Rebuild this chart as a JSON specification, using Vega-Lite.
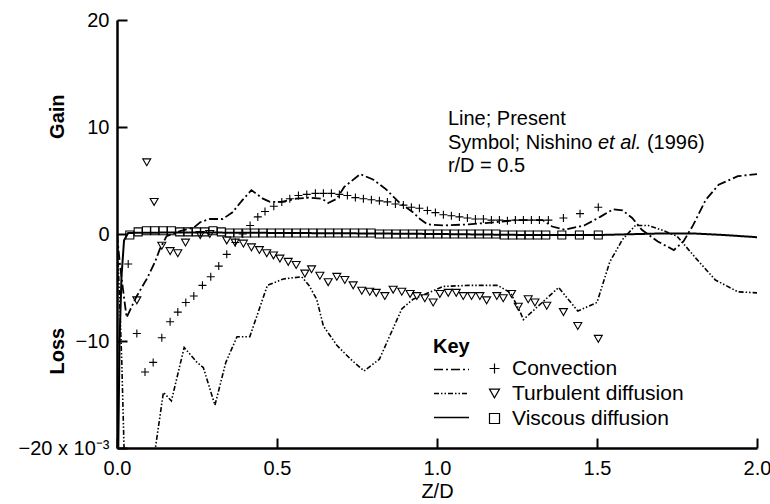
{
  "$schema": "https://vega.github.io/schema/vega-lite/v6.json",
  "width": 640,
  "height": 428,
  "autosize": "none",
  "padding": {"left": 117, "top": 20, "right": 13, "bottom": 56},
  "config": {
    "view": {"stroke": null},
    "font": "Liberation Sans",
    "axis": {"grid": false, "domainColor": "black", "tickColor": "black", "labelColor": "black", "titleColor": "black", "labelFont": "Liberation Sans", "titleFont": "Liberation Sans", "labelFontSize": 20, "titleFontSize": 20, "domainWidth": 2.5, "tickWidth": 2},
    "legend": {"labelFont": "Liberation Sans", "titleFont": "Liberation Sans", "labelColor": "black", "titleColor": "black"}
  },
  "datasets": {
    "lines": [
      {"term": "Convection", "z": 0, "v": 0},
      {"term": "Convection", "z": 0.008, "v": -2.5},
      {"term": "Convection", "z": 0.018, "v": -5},
      {"term": "Convection", "z": 0.03, "v": -7.8},
      {"term": "Convection", "z": 0.06, "v": -5.9},
      {"term": "Convection", "z": 0.093, "v": -4.2},
      {"term": "Convection", "z": 0.119, "v": -2.6},
      {"term": "Convection", "z": 0.134, "v": -1.4},
      {"term": "Convection", "z": 0.155, "v": -0.2},
      {"term": "Convection", "z": 0.2, "v": 0.3},
      {"term": "Convection", "z": 0.24, "v": 0.6},
      {"term": "Convection", "z": 0.26, "v": 1.1},
      {"term": "Convection", "z": 0.29, "v": 1.4},
      {"term": "Convection", "z": 0.33, "v": 1.4},
      {"term": "Convection", "z": 0.36, "v": 2.0},
      {"term": "Convection", "z": 0.39, "v": 3.1},
      {"term": "Convection", "z": 0.42, "v": 4.1},
      {"term": "Convection", "z": 0.456, "v": 3.3},
      {"term": "Convection", "z": 0.478, "v": 3.0},
      {"term": "Convection", "z": 0.515, "v": 3.0},
      {"term": "Convection", "z": 0.56, "v": 3.3},
      {"term": "Convection", "z": 0.6, "v": 3.4},
      {"term": "Convection", "z": 0.64, "v": 3.3},
      {"term": "Convection", "z": 0.66, "v": 2.9},
      {"term": "Convection", "z": 0.687, "v": 3.3},
      {"term": "Convection", "z": 0.71, "v": 4.4},
      {"term": "Convection", "z": 0.76, "v": 5.6},
      {"term": "Convection", "z": 0.8, "v": 5.1},
      {"term": "Convection", "z": 0.84, "v": 4.2},
      {"term": "Convection", "z": 0.88, "v": 3.0},
      {"term": "Convection", "z": 0.926, "v": 2.0},
      {"term": "Convection", "z": 0.947, "v": 1.4},
      {"term": "Convection", "z": 0.97, "v": 0.9},
      {"term": "Convection", "z": 1.02, "v": 0.8},
      {"term": "Convection", "z": 1.1, "v": 0.9},
      {"term": "Convection", "z": 1.18, "v": 1.1},
      {"term": "Convection", "z": 1.25, "v": 1.3},
      {"term": "Convection", "z": 1.33, "v": 1.3},
      {"term": "Convection", "z": 1.36, "v": 0.7},
      {"term": "Convection", "z": 1.4, "v": 0.4},
      {"term": "Convection", "z": 1.46, "v": 0.8},
      {"term": "Convection", "z": 1.51, "v": 1.6},
      {"term": "Convection", "z": 1.55, "v": 2.3},
      {"term": "Convection", "z": 1.58, "v": 2.2},
      {"term": "Convection", "z": 1.61, "v": 1.5},
      {"term": "Convection", "z": 1.64, "v": 0.4},
      {"term": "Convection", "z": 1.69, "v": -0.7},
      {"term": "Convection", "z": 1.74, "v": -1.5},
      {"term": "Convection", "z": 1.77, "v": -0.7},
      {"term": "Convection", "z": 1.8, "v": 0.8},
      {"term": "Convection", "z": 1.84, "v": 3.2},
      {"term": "Convection", "z": 1.88, "v": 4.6},
      {"term": "Convection", "z": 1.94, "v": 5.4},
      {"term": "Convection", "z": 2.0, "v": 5.6},
      {"term": "Turbulent diffusion", "z": 0, "v": 0},
      {"term": "Turbulent diffusion", "z": 0.008, "v": -6},
      {"term": "Turbulent diffusion", "z": 0.015, "v": -12},
      {"term": "Turbulent diffusion", "z": 0.022, "v": -20},
      {"term": "Turbulent diffusion", "z": 0.03, "v": -27},
      {"term": "Turbulent diffusion", "z": 0.09, "v": -27},
      {"term": "Turbulent diffusion", "z": 0.12, "v": -20},
      {"term": "Turbulent diffusion", "z": 0.145, "v": -14.8},
      {"term": "Turbulent diffusion", "z": 0.17, "v": -15.6},
      {"term": "Turbulent diffusion", "z": 0.21, "v": -10.6},
      {"term": "Turbulent diffusion", "z": 0.25, "v": -12},
      {"term": "Turbulent diffusion", "z": 0.27, "v": -12.5},
      {"term": "Turbulent diffusion", "z": 0.306, "v": -16},
      {"term": "Turbulent diffusion", "z": 0.34, "v": -12},
      {"term": "Turbulent diffusion", "z": 0.375, "v": -9.6},
      {"term": "Turbulent diffusion", "z": 0.415, "v": -9.6},
      {"term": "Turbulent diffusion", "z": 0.47, "v": -4.8},
      {"term": "Turbulent diffusion", "z": 0.52, "v": -4.2},
      {"term": "Turbulent diffusion", "z": 0.577, "v": -4.0},
      {"term": "Turbulent diffusion", "z": 0.6, "v": -4.8},
      {"term": "Turbulent diffusion", "z": 0.624, "v": -6.1},
      {"term": "Turbulent diffusion", "z": 0.645, "v": -8.6},
      {"term": "Turbulent diffusion", "z": 0.687, "v": -10.4},
      {"term": "Turbulent diffusion", "z": 0.73, "v": -11.7},
      {"term": "Turbulent diffusion", "z": 0.772, "v": -12.8},
      {"term": "Turbulent diffusion", "z": 0.82, "v": -11.7},
      {"term": "Turbulent diffusion", "z": 0.89, "v": -7.0},
      {"term": "Turbulent diffusion", "z": 0.925, "v": -6.1},
      {"term": "Turbulent diffusion", "z": 1.02, "v": -4.9},
      {"term": "Turbulent diffusion", "z": 1.1, "v": -4.8},
      {"term": "Turbulent diffusion", "z": 1.19, "v": -4.8},
      {"term": "Turbulent diffusion", "z": 1.23, "v": -5.5},
      {"term": "Turbulent diffusion", "z": 1.26, "v": -7.3},
      {"term": "Turbulent diffusion", "z": 1.27, "v": -8.0},
      {"term": "Turbulent diffusion", "z": 1.38, "v": -5.0},
      {"term": "Turbulent diffusion", "z": 1.44, "v": -7.2},
      {"term": "Turbulent diffusion", "z": 1.5, "v": -6.4},
      {"term": "Turbulent diffusion", "z": 1.54, "v": -2.6},
      {"term": "Turbulent diffusion", "z": 1.58, "v": -0.5},
      {"term": "Turbulent diffusion", "z": 1.62, "v": 0.8},
      {"term": "Turbulent diffusion", "z": 1.66, "v": 0.8},
      {"term": "Turbulent diffusion", "z": 1.7, "v": 0.4},
      {"term": "Turbulent diffusion", "z": 1.75, "v": -0.2},
      {"term": "Turbulent diffusion", "z": 1.81, "v": -2.3},
      {"term": "Turbulent diffusion", "z": 1.87, "v": -4.3},
      {"term": "Turbulent diffusion", "z": 1.94, "v": -5.4},
      {"term": "Turbulent diffusion", "z": 2.0, "v": -5.5},
      {"term": "Viscous diffusion", "z": 0, "v": -27},
      {"term": "Viscous diffusion", "z": 0.004, "v": -20},
      {"term": "Viscous diffusion", "z": 0.008, "v": -10},
      {"term": "Viscous diffusion", "z": 0.014, "v": -4},
      {"term": "Viscous diffusion", "z": 0.022, "v": -0.6},
      {"term": "Viscous diffusion", "z": 0.035, "v": 0.1},
      {"term": "Viscous diffusion", "z": 0.2, "v": 0.15},
      {"term": "Viscous diffusion", "z": 0.5, "v": 0.1},
      {"term": "Viscous diffusion", "z": 0.8, "v": 0.05},
      {"term": "Viscous diffusion", "z": 1.0, "v": 0},
      {"term": "Viscous diffusion", "z": 1.3, "v": -0.1},
      {"term": "Viscous diffusion", "z": 1.5, "v": -0.1},
      {"term": "Viscous diffusion", "z": 1.7, "v": 0.05},
      {"term": "Viscous diffusion", "z": 1.8, "v": 0.05},
      {"term": "Viscous diffusion", "z": 1.9, "v": -0.1},
      {"term": "Viscous diffusion", "z": 2.0, "v": -0.3}
    ],
    "points": [
      {"quantity": "Convection", "z": 0.035, "v": -2.8},
      {"quantity": "Convection", "z": 0.062, "v": -9.3},
      {"quantity": "Convection", "z": 0.0875, "v": -12.9},
      {"quantity": "Convection", "z": 0.113, "v": -12.0},
      {"quantity": "Convection", "z": 0.14, "v": -9.7},
      {"quantity": "Convection", "z": 0.166, "v": -8.2},
      {"quantity": "Convection", "z": 0.19, "v": -7.3},
      {"quantity": "Convection", "z": 0.215, "v": -6.4},
      {"quantity": "Convection", "z": 0.24, "v": -5.8},
      {"quantity": "Convection", "z": 0.267, "v": -4.8},
      {"quantity": "Convection", "z": 0.293, "v": -4.0},
      {"quantity": "Convection", "z": 0.318, "v": -3.0},
      {"quantity": "Convection", "z": 0.343, "v": -1.9},
      {"quantity": "Convection", "z": 0.37, "v": -0.8},
      {"quantity": "Convection", "z": 0.393, "v": 0.0},
      {"quantity": "Convection", "z": 0.416, "v": 0.8},
      {"quantity": "Convection", "z": 0.44, "v": 1.6},
      {"quantity": "Convection", "z": 0.4625, "v": 2.1},
      {"quantity": "Convection", "z": 0.49, "v": 2.6},
      {"quantity": "Convection", "z": 0.515, "v": 3.0},
      {"quantity": "Convection", "z": 0.54, "v": 3.3},
      {"quantity": "Convection", "z": 0.567, "v": 3.6},
      {"quantity": "Convection", "z": 0.593, "v": 3.7},
      {"quantity": "Convection", "z": 0.62, "v": 3.8},
      {"quantity": "Convection", "z": 0.645, "v": 3.8},
      {"quantity": "Convection", "z": 0.67, "v": 3.8},
      {"quantity": "Convection", "z": 0.695, "v": 3.7},
      {"quantity": "Convection", "z": 0.72, "v": 3.6},
      {"quantity": "Convection", "z": 0.745, "v": 3.4},
      {"quantity": "Convection", "z": 0.77, "v": 3.3},
      {"quantity": "Convection", "z": 0.795, "v": 3.2},
      {"quantity": "Convection", "z": 0.82, "v": 3.1},
      {"quantity": "Convection", "z": 0.845, "v": 3.0},
      {"quantity": "Convection", "z": 0.87, "v": 2.8},
      {"quantity": "Convection", "z": 0.895, "v": 2.7},
      {"quantity": "Convection", "z": 0.92, "v": 2.5},
      {"quantity": "Convection", "z": 0.945, "v": 2.4},
      {"quantity": "Convection", "z": 0.97, "v": 2.2},
      {"quantity": "Convection", "z": 0.995, "v": 2.0},
      {"quantity": "Convection", "z": 1.02, "v": 1.8},
      {"quantity": "Convection", "z": 1.045, "v": 1.7},
      {"quantity": "Convection", "z": 1.07, "v": 1.6},
      {"quantity": "Convection", "z": 1.095, "v": 1.5},
      {"quantity": "Convection", "z": 1.12, "v": 1.4},
      {"quantity": "Convection", "z": 1.145, "v": 1.4},
      {"quantity": "Convection", "z": 1.17, "v": 1.3},
      {"quantity": "Convection", "z": 1.195, "v": 1.3},
      {"quantity": "Convection", "z": 1.22, "v": 1.25},
      {"quantity": "Convection", "z": 1.245, "v": 1.3},
      {"quantity": "Convection", "z": 1.27, "v": 1.3},
      {"quantity": "Convection", "z": 1.295, "v": 1.3},
      {"quantity": "Convection", "z": 1.32, "v": 1.3},
      {"quantity": "Convection", "z": 1.348, "v": 1.3},
      {"quantity": "Convection", "z": 1.395, "v": 1.5},
      {"quantity": "Convection", "z": 1.447, "v": 1.9},
      {"quantity": "Convection", "z": 1.504, "v": 2.5},
      {"quantity": "Turbulent diffusion", "z": 0.093, "v": 6.7},
      {"quantity": "Turbulent diffusion", "z": 0.116, "v": 3.0},
      {"quantity": "Turbulent diffusion", "z": 0.062, "v": -6.2},
      {"quantity": "Turbulent diffusion", "z": 0.14, "v": -1.1},
      {"quantity": "Turbulent diffusion", "z": 0.166, "v": -1.6},
      {"quantity": "Turbulent diffusion", "z": 0.19, "v": -1.8},
      {"quantity": "Turbulent diffusion", "z": 0.214, "v": -0.8},
      {"quantity": "Turbulent diffusion", "z": 0.26, "v": -0.1},
      {"quantity": "Turbulent diffusion", "z": 0.29, "v": 0.0},
      {"quantity": "Turbulent diffusion", "z": 0.343, "v": -0.6},
      {"quantity": "Turbulent diffusion", "z": 0.369, "v": -0.8},
      {"quantity": "Turbulent diffusion", "z": 0.395, "v": -0.9},
      {"quantity": "Turbulent diffusion", "z": 0.42, "v": -1.25},
      {"quantity": "Turbulent diffusion", "z": 0.445, "v": -1.5},
      {"quantity": "Turbulent diffusion", "z": 0.468, "v": -1.8},
      {"quantity": "Turbulent diffusion", "z": 0.489, "v": -2.0},
      {"quantity": "Turbulent diffusion", "z": 0.509, "v": -2.3},
      {"quantity": "Turbulent diffusion", "z": 0.535, "v": -2.6},
      {"quantity": "Turbulent diffusion", "z": 0.56, "v": -2.9},
      {"quantity": "Turbulent diffusion", "z": 0.587, "v": -3.7},
      {"quantity": "Turbulent diffusion", "z": 0.608, "v": -3.3},
      {"quantity": "Turbulent diffusion", "z": 0.634, "v": -3.9},
      {"quantity": "Turbulent diffusion", "z": 0.66, "v": -4.5},
      {"quantity": "Turbulent diffusion", "z": 0.687, "v": -4.0},
      {"quantity": "Turbulent diffusion", "z": 0.712, "v": -4.3},
      {"quantity": "Turbulent diffusion", "z": 0.738, "v": -4.8},
      {"quantity": "Turbulent diffusion", "z": 0.765, "v": -5.3},
      {"quantity": "Turbulent diffusion", "z": 0.79, "v": -5.4},
      {"quantity": "Turbulent diffusion", "z": 0.81, "v": -5.5},
      {"quantity": "Turbulent diffusion", "z": 0.837, "v": -5.8},
      {"quantity": "Turbulent diffusion", "z": 0.863, "v": -5.2},
      {"quantity": "Turbulent diffusion", "z": 0.89, "v": -5.4},
      {"quantity": "Turbulent diffusion", "z": 0.916, "v": -5.6},
      {"quantity": "Turbulent diffusion", "z": 0.937, "v": -5.8},
      {"quantity": "Turbulent diffusion", "z": 0.962, "v": -6.0},
      {"quantity": "Turbulent diffusion", "z": 0.988, "v": -6.4},
      {"quantity": "Turbulent diffusion", "z": 1.009, "v": -5.6},
      {"quantity": "Turbulent diffusion", "z": 1.035, "v": -5.5},
      {"quantity": "Turbulent diffusion", "z": 1.06, "v": -5.5},
      {"quantity": "Turbulent diffusion", "z": 1.082, "v": -5.8},
      {"quantity": "Turbulent diffusion", "z": 1.108, "v": -5.8},
      {"quantity": "Turbulent diffusion", "z": 1.134, "v": -5.8},
      {"quantity": "Turbulent diffusion", "z": 1.155, "v": -6.2},
      {"quantity": "Turbulent diffusion", "z": 1.187, "v": -5.8},
      {"quantity": "Turbulent diffusion", "z": 1.207, "v": -6.0},
      {"quantity": "Turbulent diffusion", "z": 1.233, "v": -5.6},
      {"quantity": "Turbulent diffusion", "z": 1.254, "v": -6.8},
      {"quantity": "Turbulent diffusion", "z": 1.285, "v": -6.1},
      {"quantity": "Turbulent diffusion", "z": 1.306, "v": -6.4},
      {"quantity": "Turbulent diffusion", "z": 1.343, "v": -6.7},
      {"quantity": "Turbulent diffusion", "z": 1.395, "v": -7.3},
      {"quantity": "Turbulent diffusion", "z": 1.44, "v": -8.6},
      {"quantity": "Turbulent diffusion", "z": 1.504, "v": -9.8},
      {"quantity": "Viscous diffusion", "z": 0.04, "v": -0.1},
      {"quantity": "Viscous diffusion", "z": 0.066, "v": 0.2},
      {"quantity": "Viscous diffusion", "z": 0.092, "v": 0.3},
      {"quantity": "Viscous diffusion", "z": 0.118, "v": 0.3},
      {"quantity": "Viscous diffusion", "z": 0.144, "v": 0.3},
      {"quantity": "Viscous diffusion", "z": 0.17, "v": 0.3},
      {"quantity": "Viscous diffusion", "z": 0.196, "v": 0.2},
      {"quantity": "Viscous diffusion", "z": 0.222, "v": 0.2},
      {"quantity": "Viscous diffusion", "z": 0.248, "v": 0.2},
      {"quantity": "Viscous diffusion", "z": 0.274, "v": 0.2},
      {"quantity": "Viscous diffusion", "z": 0.3, "v": 0.3},
      {"quantity": "Viscous diffusion", "z": 0.326, "v": 0.2},
      {"quantity": "Viscous diffusion", "z": 0.352, "v": 0.1},
      {"quantity": "Viscous diffusion", "z": 0.378, "v": 0.1},
      {"quantity": "Viscous diffusion", "z": 0.404, "v": 0.1},
      {"quantity": "Viscous diffusion", "z": 0.43, "v": 0.1},
      {"quantity": "Viscous diffusion", "z": 0.456, "v": 0.1},
      {"quantity": "Viscous diffusion", "z": 0.482, "v": 0.1},
      {"quantity": "Viscous diffusion", "z": 0.508, "v": 0.1},
      {"quantity": "Viscous diffusion", "z": 0.534, "v": 0.1},
      {"quantity": "Viscous diffusion", "z": 0.56, "v": 0.1},
      {"quantity": "Viscous diffusion", "z": 0.586, "v": 0.1},
      {"quantity": "Viscous diffusion", "z": 0.612, "v": 0.1},
      {"quantity": "Viscous diffusion", "z": 0.638, "v": 0.1},
      {"quantity": "Viscous diffusion", "z": 0.664, "v": 0.1},
      {"quantity": "Viscous diffusion", "z": 0.69, "v": 0.1},
      {"quantity": "Viscous diffusion", "z": 0.716, "v": 0.1},
      {"quantity": "Viscous diffusion", "z": 0.742, "v": 0.1},
      {"quantity": "Viscous diffusion", "z": 0.768, "v": 0.1},
      {"quantity": "Viscous diffusion", "z": 0.794, "v": 0.1},
      {"quantity": "Viscous diffusion", "z": 0.82, "v": 0.0},
      {"quantity": "Viscous diffusion", "z": 0.846, "v": 0.0},
      {"quantity": "Viscous diffusion", "z": 0.872, "v": 0.0},
      {"quantity": "Viscous diffusion", "z": 0.898, "v": 0.0},
      {"quantity": "Viscous diffusion", "z": 0.924, "v": 0.0},
      {"quantity": "Viscous diffusion", "z": 0.95, "v": 0.0},
      {"quantity": "Viscous diffusion", "z": 0.976, "v": 0.0},
      {"quantity": "Viscous diffusion", "z": 1.002, "v": 0.0},
      {"quantity": "Viscous diffusion", "z": 1.028, "v": 0.0},
      {"quantity": "Viscous diffusion", "z": 1.054, "v": 0.0},
      {"quantity": "Viscous diffusion", "z": 1.08, "v": 0.0},
      {"quantity": "Viscous diffusion", "z": 1.106, "v": 0.0},
      {"quantity": "Viscous diffusion", "z": 1.132, "v": 0.0},
      {"quantity": "Viscous diffusion", "z": 1.158, "v": 0.0},
      {"quantity": "Viscous diffusion", "z": 1.184, "v": 0.0},
      {"quantity": "Viscous diffusion", "z": 1.21, "v": -0.1},
      {"quantity": "Viscous diffusion", "z": 1.236, "v": -0.1},
      {"quantity": "Viscous diffusion", "z": 1.262, "v": -0.1},
      {"quantity": "Viscous diffusion", "z": 1.288, "v": -0.1},
      {"quantity": "Viscous diffusion", "z": 1.314, "v": -0.1},
      {"quantity": "Viscous diffusion", "z": 1.34, "v": -0.1},
      {"quantity": "Viscous diffusion", "z": 1.39, "v": -0.1},
      {"quantity": "Viscous diffusion", "z": 1.445, "v": -0.1},
      {"quantity": "Viscous diffusion", "z": 1.504, "v": -0.1}
    ]
  },
  "layer": [
    {
      "data": {"name": "lines"},
      "mark": {"type": "line", "color": "black", "clip": true},
      "encoding": {
        "x": {"field": "z", "type": "quantitative", "scale": {"domain": [0, 2], "nice": false, "zero": false},
          "axis": {"values": [0, 0.5, 1, 1.5, 2], "format": ".1f", "tickSize": -10, "labelPadding": 20, "labelFlush": false, "labelOverlap": false, "title": "Z/D", "titleFontWeight": "normal", "titlePadding": 3}},
        "y": {"field": "v", "type": "quantitative", "scale": {"domain": [-20, 20], "nice": false, "zero": false},
          "axis": {"values": [-20, -10, 0, 10, 20], "tickSize": -10, "labelPadding": 18, "labelOverlap": false, "labelFlush": false,
            "labelExpr": "datum.value == -20 ? '\u221220 x 10\u207b\u00b3' : (datum.value < 0 ? '\u2212' + abs(datum.value) : '' + datum.value)",
            "title": "Loss\u00a0\u00a0\u00a0\u00a0\u00a0\u00a0\u00a0\u00a0\u00a0\u00a0\u00a0\u00a0\u00a0\u00a0\u00a0\u00a0\u00a0\u00a0\u00a0\u00a0\u00a0\u00a0\u00a0\u00a0\u00a0\u00a0\u00a0\u00a0\u00a0\u00a0\u00a0\u00a0\u00a0\u00a0Gain",
            "titleFontWeight": "bold", "titleX": -54, "titleY": 214, "titleAngle": 270, "titleBaseline": "alphabetic", "titleAlign": "center"}},
        "strokeDash": {"field": "term", "type": "nominal",
          "scale": {"domain": ["Convection", "Turbulent diffusion", "Viscous diffusion"], "range": [[9, 3, 2, 3], [5, 2, 1.5, 2, 1.5, 2], [1, 0]]},
          "legend": {"title": "Key", "orient": "none", "legendX": 316, "legendY": 317, "symbolType": "stroke", "symbolSize": 1225, "symbolStrokeWidth": 1.6, "symbolStrokeColor": "black", "labelExpr": "''", "titleFontSize": 20, "titleFontWeight": "bold", "rowPadding": -8.5, "titlePadding": -6}},
        "strokeWidth": {"field": "term", "type": "nominal", "scale": {"domain": ["Viscous diffusion", "Convection", "Turbulent diffusion"], "range": [2, 1.6, 1.6]}, "legend": null}
      }
    },
    {
      "data": {"name": "points"},
      "mark": {"type": "point", "filled": false, "color": "black", "strokeWidth": 1.1, "opacity": 1},
      "encoding": {
        "x": {"field": "z", "type": "quantitative"},
        "y": {"field": "v", "type": "quantitative"},
        "shape": {"field": "quantity", "type": "nominal",
          "scale": {"domain": ["Convection", "Turbulent diffusion", "Viscous diffusion", " "], "range": ["M-1,0L1,0M0,-1L0,1", "triangle-down", "square", "circle"]},
          "legend": {"title": null, "orient": "none", "legendX": 367, "legendY": 338, "values": ["Convection", "Turbulent diffusion", "Viscous diffusion"], "labelFontSize": 21, "labelLimit": 400, "symbolSize": 100, "symbolStrokeWidth": 1.2, "symbolStrokeColor": "black", "symbolFillColor": "transparent", "labelOffset": 7, "rowPadding": 3}},
        "size": {"field": "quantity", "type": "nominal", "scale": {"domain": ["Viscous diffusion", "Turbulent diffusion", "Convection"], "range": [64, 64, 100]}, "legend": null}
      }
    },
    {
      "data": {"values": [{}]},
      "mark": {"type": "text", "text": "Line; Present", "align": "left", "baseline": "alphabetic", "fontSize": 20, "font": "Liberation Sans", "color": "black"},
      "encoding": {"x": {"datum": 1.034}, "y": {"datum": 10.2}}
    },
    {
      "data": {"values": [{}]},
      "mark": {"type": "text", "text": "Symbol; Nishino", "align": "left", "baseline": "alphabetic", "fontSize": 20, "font": "Liberation Sans", "color": "black"},
      "encoding": {"x": {"datum": 1.034}, "y": {"datum": 7.9}}
    },
    {
      "data": {"values": [{}]},
      "mark": {"type": "text", "text": "et al.", "align": "left", "baseline": "alphabetic", "fontSize": 20, "fontStyle": "italic", "font": "Liberation Sans", "color": "black"},
      "encoding": {"x": {"datum": 1.503}, "y": {"datum": 7.9}}
    },
    {
      "data": {"values": [{}]},
      "mark": {"type": "text", "text": "(1996)", "align": "left", "baseline": "alphabetic", "fontSize": 20, "font": "Liberation Sans", "color": "black"},
      "encoding": {"x": {"datum": 1.656}, "y": {"datum": 7.9}}
    },
    {
      "data": {"values": [{}]},
      "mark": {"type": "text", "text": "r/D = 0.5", "align": "left", "baseline": "alphabetic", "fontSize": 20, "font": "Liberation Sans", "color": "black"},
      "encoding": {"x": {"datum": 1.034}, "y": {"datum": 5.8}}
    }
  ]
}
